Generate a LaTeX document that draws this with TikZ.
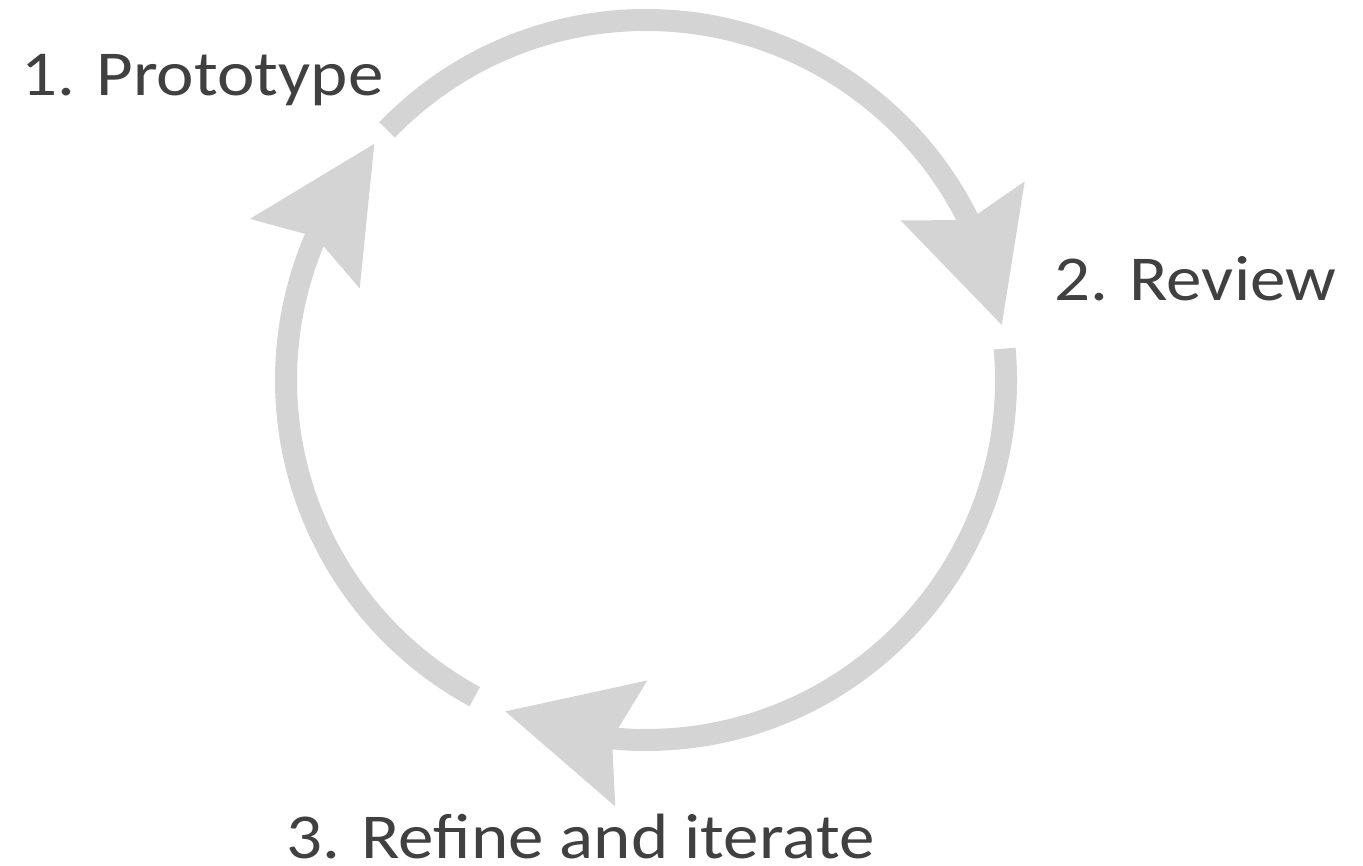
\documentclass[tikz,border=0pt]{standalone}
\usepackage{fontspec}
\setmainfont[FakeStretch=1.11]{Carlito}
\usetikzlibrary{arrows.meta,bending}
\definecolor{arcgray}{RGB}{212,212,212}
\definecolor{txtgray}{RGB}{64,64,64}
\begin{document}
\begin{tikzpicture}[x=1pt,y=1pt,
  cyclearc/.style={draw=arcgray,line width=22pt,
    -{Stealth[length=130pt,width=130pt,inset=20pt,line width=0pt,fill=arcgray]}},
  lbl/.style={anchor=base west,inner sep=0pt,text=txtgray,font=\fontsize{64}{76}\selectfont}]
\useasboundingbox (0,0) rectangle (1363,-866);
\coordinate (c) at (646,-380);
\path (c) ++(136:360) coordinate (s1);
\path (c) ++(5:360) coordinate (s2);
\path (c) ++(241.6:360) coordinate (s3);
\draw[cyclearc] (s1) arc[start angle=136,end angle=8.8,radius=360];
\draw[cyclearc] (s2) arc[start angle=5,end angle=-113,radius=360];
\draw[cyclearc] (s3) arc[start angle=241.6,end angle=139,radius=360];
\node[lbl] (p1) at (21,-96) {1. Prototype};
\node[lbl] (p2) at (1054,-301) {2. Review};
\node[lbl] (p3) at (286,-858) {3. Refine and iterate};
\end{tikzpicture}
\end{document}
